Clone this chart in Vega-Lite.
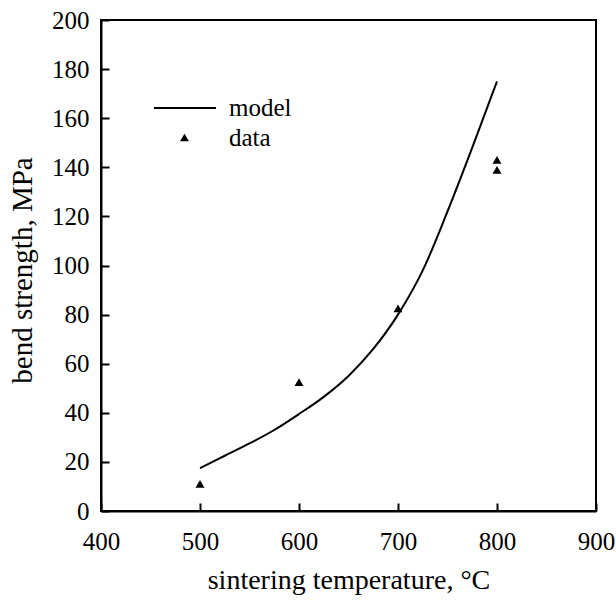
{
  "$schema": "https://vega.github.io/schema/vega-lite/v6.json",
  "autosize": {"type": "none"},
  "width": 495,
  "height": 491,
  "padding": {"left": 101, "top": 20, "right": 20, "bottom": 93},
  "background": "white",
  "config": {
    "view": {"stroke": "black", "strokeWidth": 2, "fill": null},
    "font": "Liberation Serif",
    "axis": {
      "grid": false,
      "labelFlush": false,
      "labelFont": "Liberation Serif",
      "labelFontSize": 25,
      "labelColor": "black",
      "titleFont": "Liberation Serif",
      "titleFontSize": 28,
      "titleFontWeight": "normal",
      "titleColor": "black"
    },
    "legend": {
      "labelFont": "Liberation Serif",
      "labelFontSize": 25,
      "labelColor": "black",
      "padding": 0
    }
  },
  "datasets": {
    "model": [
      {"T": 500, "S": 17.5},
      {"T": 525, "S": 22.5},
      {"T": 550, "S": 27.5},
      {"T": 575, "S": 33},
      {"T": 600, "S": 39.5},
      {"T": 625, "S": 46.5},
      {"T": 650, "S": 55},
      {"T": 675, "S": 66},
      {"T": 700, "S": 80},
      {"T": 725, "S": 98},
      {"T": 750, "S": 122},
      {"T": 775, "S": 148},
      {"T": 800, "S": 175}
    ],
    "data": [
      {"T": 500, "S": 11},
      {"T": 600, "S": 52.5},
      {"T": 700, "S": 82.5},
      {"T": 800, "S": 143},
      {"T": 800, "S": 139}
    ]
  },
  "layer": [
    {
      "data": {"name": "model"},
      "mark": {"type": "line", "interpolate": "monotone", "strokeWidth": 2, "color": "black"},
      "encoding": {
        "x": {
          "field": "T", "type": "quantitative",
          "scale": {"domain": [400, 900], "nice": false},
          "axis": {"values": [400, 500, 600, 700, 800, 900], "title": "sintering temperature, °C", "tickSize": -8, "tickColor": "black", "tickWidth": 2, "domainColor": "black", "domainWidth": 2, "labelPadding": 26, "titlePadding": 12}
        },
        "y": {
          "field": "S", "type": "quantitative",
          "scale": {"domain": [0, 200], "nice": false},
          "axis": {"values": [0, 20, 40, 60, 80, 100, 120, 140, 160, 180, 200], "title": "bend strength, MPa", "titleFontSize": 29, "titleY": 250, "tickSize": -8, "tickColor": "black", "tickWidth": 2, "domainColor": "black", "domainWidth": 2, "labelPadding": 20, "titlePadding": 14}
        },
        "color": {
          "datum": "model",
          "scale": {"domain": ["model"], "range": ["black"]},
          "legend": {
            "title": null,
            "orient": "none",
            "legendX": 52,
            "legendY": 56,
            "symbolType": "stroke",
            "symbolSize": 3844,
            "symbolStrokeWidth": 2,
            "labelOffset": 12
          }
        }
      }
    },
    {
      "data": {"name": "data"},
      "mark": {"type": "point", "filled": true, "color": "black", "size": 80, "opacity": 1},
      "encoding": {
        "x": {"field": "T", "type": "quantitative"},
        "y": {"field": "S", "type": "quantitative"},
        "shape": {
          "datum": "data",
          "scale": {"domain": ["data"], "range": ["triangle-up"]},
          "legend": {
            "title": null,
            "orient": "none",
            "legendX": 71,
            "legendY": 105,
            "symbolSize": 80,
            "symbolFillColor": "black",
            "symbolStrokeWidth": 0,
            "labelOffset": 32
          }
        }
      }
    }
  ]
}
